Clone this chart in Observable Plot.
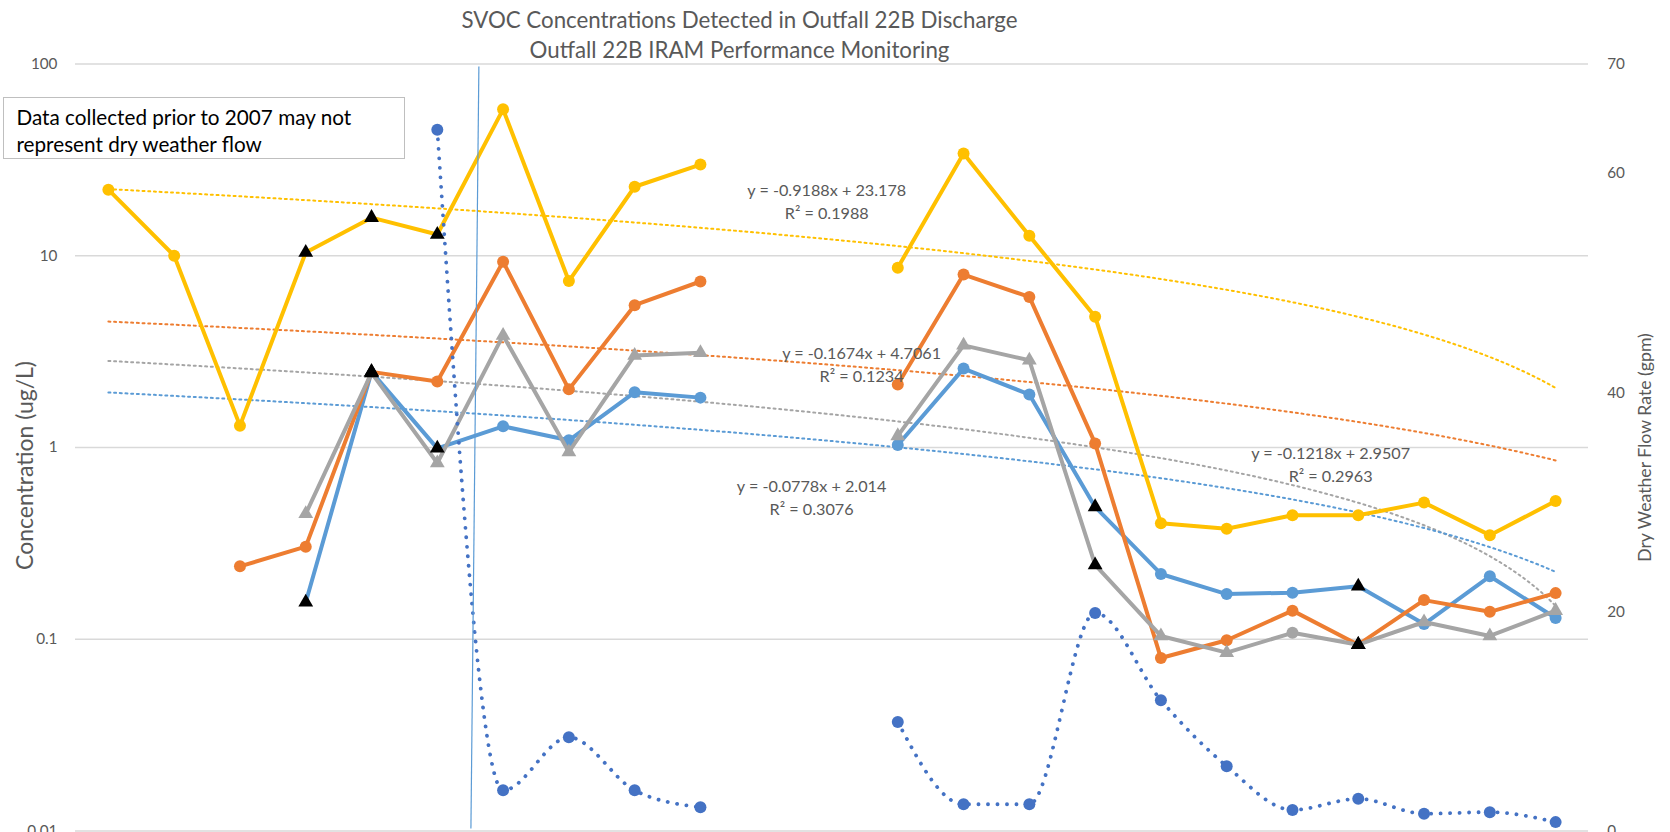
<!DOCTYPE html>
<html><head><meta charset="utf-8">
<script src="https://cdn.jsdelivr.net/npm/d3@7"></script>
<script src="https://cdn.jsdelivr.net/npm/@observablehq/plot@0.6"></script>
<style>
body{margin:0;background:#fff;}
#wrap{position:relative;width:1670px;height:832px;overflow:hidden;font-family:Lato,sans-serif;}
#title{position:absolute;left:0;top:5px;width:1479px;text-align:center;color:#595959;font-size:22.3px;line-height:29.5px;}
#note{position:absolute;left:3px;top:96.5px;width:402px;height:62.5px;box-sizing:border-box;border:1.5px solid #bfbfbf;background:#fff;color:#000;font-size:20.7px;line-height:27.2px;padding:6.3px 0 0 12.5px;white-space:nowrap;}
</style></head>
<body><div id="wrap"><div id="chart"></div>
<div id="title">SVOC Concentrations Detected in Outfall 22B Discharge<br>Outfall 22B IRAM Performance Monitoring</div>
<div id="note">Data collected prior to 2007 may not<br>represent dry weather flow</div>
</div>
<script>
// sample sequence (x used by the Excel trendlines)
const sampleNo = [1,2,3,4,5,6,7,8,9,10,11,12,13,14,15,16,17,18,19,20,21,22,23];

// concentration series (ug/L); null = no sample
const yellowVals = [22.1,10,1.30,10.4,15.8,12.9,58,7.38,22.9,29.9,null,null,8.67,34.1,12.7,4.81,0.403,0.377,0.443,0.443,0.516,0.349,0.526];
const orangeVals = [null,null,0.240,0.304,2.48,2.21,9.31,2.01,5.52,7.34,null,null,2.13,7.98,6.1,1.05,0.0798,0.0988,0.141,0.0937,0.160,0.139,0.174];
const grayVals   = [null,null,null,0.451,2.45,0.83,3.84,0.948,3.02,3.12,null,null,1.15,3.41,2.85,0.244,0.104,0.0851,0.108,0.0937,0.123,0.104,0.141];
const blueVals   = [null,null,null,0.156,2.48,0.99,1.29,1.09,1.94,1.82,null,null,1.03,2.58,1.89,0.49,0.219,0.172,0.175,0.189,0.120,0.213,0.129];

// marker kind per point: o = circle, t = triangle in series colour, k = black triangle
const yellowMarks = ["o","o","o","k","k","k","o","o","o","o","","","o","o","o","o","o","o","o","o","o","o","o"];
const orangeMarks = ["","","o","o","k","o","o","o","o","o","","","o","o","o","o","o","o","o","k","o","o","o"];
const grayMarks   = ["","","","t","k","t","t","t","t","t","","","t","t","t","k","t","t","o","k","t","t","t"];
const blueMarks   = ["","","","k","k","k","o","o","o","o","","","o","o","o","k","o","o","o","k","o","o","o"];

// dry weather flow rate (gpm), secondary axis
const flowVals = [null,null,null,null,null,64.0,3.71,8.55,3.71,2.17,null,null,9.95,2.44,2.44,19.9,11.94,5.92,1.92,2.94,1.58,1.72,0.81];

// linear trendlines shown on the chart
const trendNames = ["yellow","orange","gray","blue"];
const trendSlopes = [-0.9188,-0.1674,-0.1218,-0.0778];
const trendIntercepts = [23.178,4.7061,2.9507,2.014];
const trendR2 = ["0.1988","0.1234","0.2963","0.3076"];
// label anchors in data space (sample no, concentration)
const eqAnchorX = [11.92,12.45,19.58,11.69];
const eqAnchorY = [19.6,2.74,0.826,0.559];

const concTicks = [0.01,0.1,1,10,100];
const flowTicks = [0,10,20,30,40,50,60,70];
const dividerLine = [{x1:6.632,y1:97,x2:6.511,y2:0.0103}];

const colors = {yellow:"#FFC000",orange:"#ED7D31",gray:"#A5A5A5",blue:"#5B9BD5",flow:"#4472C4"};

const f2c = f => Math.pow(10,-2+4*f/70);
const c2f = c => 70*(Math.log10(c)+2)/4;

const seriesDefs = [
  {name:"blue",vals:blueVals,marks:blueMarks},
  {name:"orange",vals:orangeVals,marks:orangeMarks},
  {name:"gray",vals:grayVals,marks:grayMarks},
  {name:"yellow",vals:yellowVals,marks:yellowMarks}
];
const rowsOf = s => sampleNo.map((n,i)=>({x:n,v:s.vals[i]==null?NaN:s.vals[i],m:s.marks[i],series:s.name}));

const trendRows = [];
trendNames.forEach((nm,k)=>{
  for(let t=10;t<=230;t++){const x=t/10;trendRows.push({series:nm,x,v:trendSlopes[k]*x+trendIntercepts[k]});}
});
const eqRows = trendNames.map((nm,k)=>({x:eqAnchorX[k],y:eqAnchorY[k],
  label:`y = ${trendSlopes[k]}x + ${trendIntercepts[k]}\nR² = ${trendR2[k]}`}));

const flowRows = sampleNo.map((n,i)=>({x:n,v:flowVals[i]==null?NaN:f2c(flowVals[i])}));
const blackTri = [];
seriesDefs.forEach(s=>rowsOf(s).forEach(d=>{if(d.m==="k")blackTri.push(d);}));

const seriesMarks = [];
seriesDefs.forEach(s=>{
  const rows = rowsOf(s);
  seriesMarks.push(Plot.line(rows,{x:"x",y:"v",stroke:colors[s.name],strokeWidth:4,strokeLinejoin:"round"}));
  seriesMarks.push(Plot.dot(rows.filter(d=>d.m==="o"),{x:"x",y:"v",r:6,fill:colors[s.name],symbol:"circle"}));
  seriesMarks.push(Plot.dot(rows.filter(d=>d.m==="t"),{x:"x",y:"v",r:5.5,fill:colors[s.name],symbol:"triangle"}));
});

const chart = Plot.plot({
  width:1670,height:832,
  marginLeft:75,marginRight:82,marginTop:63.5,marginBottom:1.5,
  x:{domain:[0.5,23.5],axis:null},
  y:{type:"log",domain:[0.01,100]},
  style:{fontFamily:"Lato, sans-serif",fontSize:"15.3px",color:"#595959",background:"white",overflow:"visible"},
  marks:[
    Plot.gridY({ticks:concTicks,stroke:"#d9d9d9",strokeOpacity:1,strokeWidth:1.3}),
    Plot.axisY({ticks:concTicks,tickSize:0,tickPadding:18,tickFormat:d=>String(d),label:null}),
    Plot.axisY({anchor:"right",ticks:flowTicks.map(f2c),tickSize:0,tickPadding:18.7,tickFormat:c=>String(Math.round(c2f(c))),label:null}),
    Plot.text(["Concentration (ug/L)"],{frameAnchor:"left",textAnchor:"middle",dx:-50,dy:18,rotate:-90,fontSize:23,fill:"#595959"}),
    Plot.text(["Dry Weather Flow Rate (gpm)"],{frameAnchor:"right",textAnchor:"middle",dx:57,rotate:-90,fontSize:17.7,fill:"#595959"}),
    Plot.line(trendRows,{x:"x",y:"v",z:"series",stroke:d=>colors[d.series],strokeWidth:2,strokeDasharray:"2 3.7"}),
    ...seriesMarks,
    Plot.line(flowRows,{x:"x",y:"v",stroke:colors.flow,strokeWidth:3.8,strokeDasharray:"0.1 9.4",strokeLinecap:"round",curve:"monotone-x"}),
    Plot.dot(flowRows.filter(d=>!isNaN(d.v)),{x:"x",y:"v",r:6,fill:colors.flow}),
    Plot.dot(blackTri,{x:"x",y:"v",r:5.5,fill:"black",symbol:"triangle"}),
    Plot.link(dividerLine,{x1:"x1",y1:"y1",x2:"x2",y2:"y2",stroke:"#5B9BD5",strokeWidth:1.2}),
    Plot.text(eqRows,{x:"x",y:"y",text:"label",fill:"#595959",fontSize:16.2,lineHeight:1.42,lineAnchor:"middle"})
  ]
});
document.getElementById("chart").appendChild(chart);
</script>
</body></html>
